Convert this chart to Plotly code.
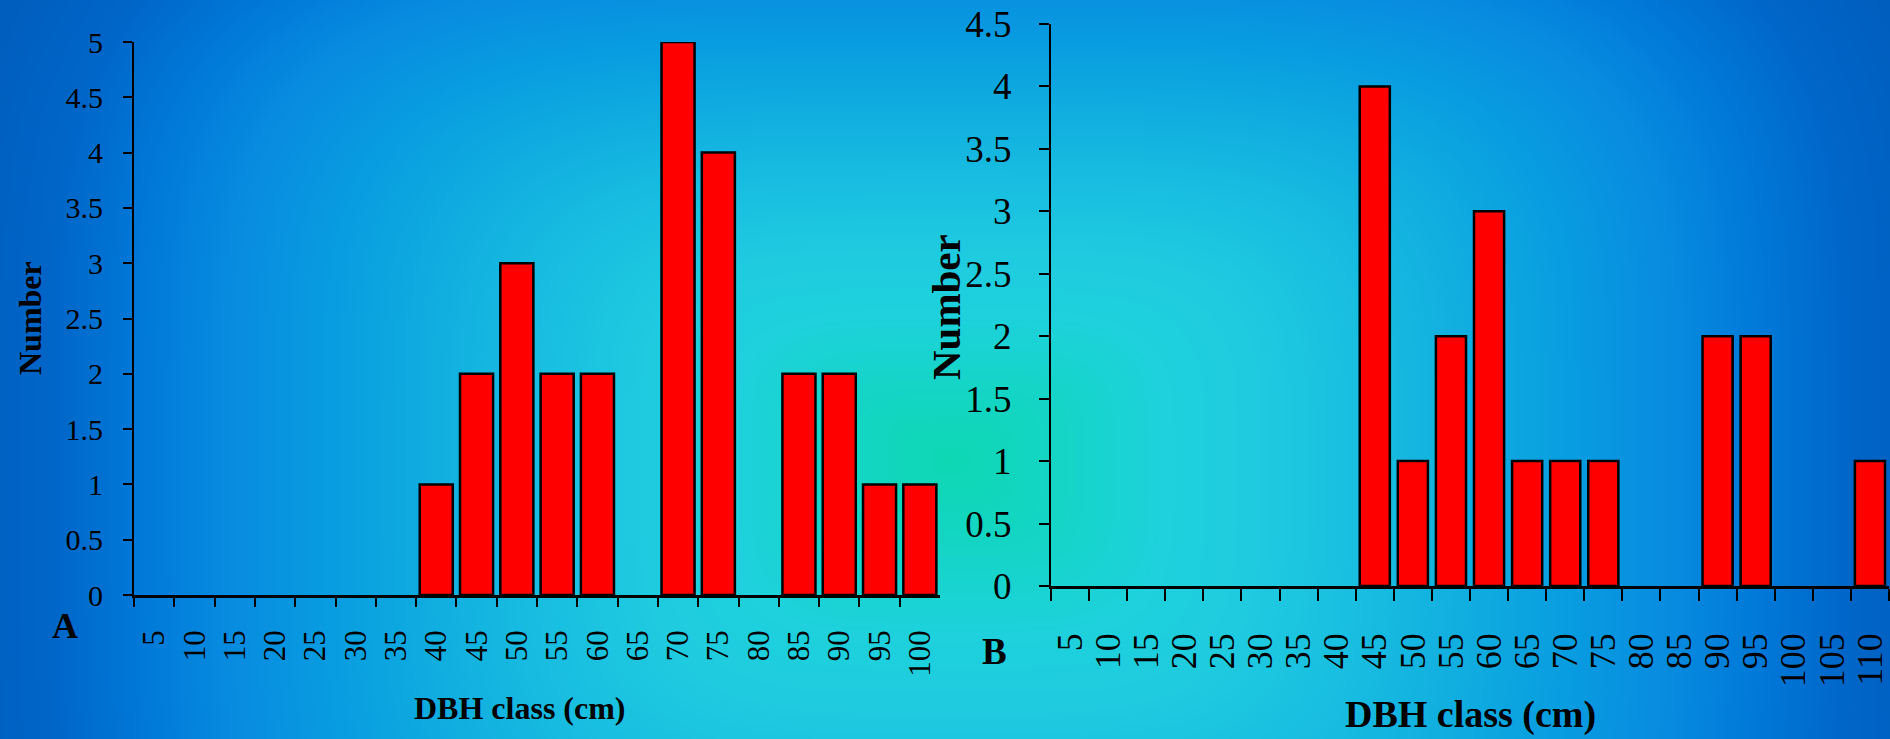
import base64
import struct
import zlib

import numpy as np
import plotly.graph_objects as go

# ---- data -----------------------------------------------------------------
classes_a = ["5", "10", "15", "20", "25", "30", "35", "40", "45", "50",
             "55", "60", "65", "70", "75", "80", "85", "90", "95", "100"]
counts_a = [0, 0, 0, 0, 0, 0, 0, 1, 2, 3, 2, 2, 0, 5, 4, 0, 2, 2, 1, 1]

classes_b = ["5", "10", "15", "20", "25", "30", "35", "40", "45", "50", "55",
             "60", "65", "70", "75", "80", "85", "90", "95", "100", "105", "110"]
counts_b = [0, 0, 0, 0, 0, 0, 0, 0, 4, 1, 2, 3, 1, 1, 1, 0, 0, 2, 2, 0, 0, 1]

x_title = "DBH class (cm)"
y_title = "Number"

# ---- page geometry ----------------------------------------------------------
W, H = 1890, 739
SERIF = "Liberation Serif, Times New Roman, serif"


def px_x(v):
    return v / W


def px_y(v):
    return 1 - v / H


# ---- gradient backdrop (teal glow fading to deep blue at the edges) --------
def backdrop_png(w=630, h=247):
    xs = (np.arange(w) + 0.5) * W / w
    ys = (np.arange(h) + 0.5) * H / h
    X, Y = np.meshgrid(xs, ys)
    cx, cy = 950.0, 460.0
    dx = np.abs(X - cx) / 950.0
    dy = np.where(Y < cy, (cy - Y) / 640.0, (Y - cy) / 775.0)
    t = (dx ** 4 + dy ** 4) ** 0.25
    stops = [
        (0.00, "#0ED8B4"), (0.10, "#14D6C4"), (0.22, "#1ED2DC"),
        (0.32, "#20CCE0"), (0.45, "#18BCE0"), (0.56, "#10ACE0"),
        (0.66, "#089CE0"), (0.76, "#088CE0"), (0.86, "#0078D8"),
        (0.95, "#0066C8"), (1.05, "#005EBE"),
    ]
    st = [s[0] for s in stops]
    chans = []
    for k in range(3):
        vals = [int(s[1][1 + 2 * k:3 + 2 * k], 16) for s in stops]
        chans.append(np.interp(t, st, vals))
    img = np.clip(np.stack(chans, axis=-1), 0, 255).astype(np.uint8)
    raw = b"".join(b"\x00" + row.tobytes() for row in img)

    def chunk(tag, data):
        return (struct.pack(">I", len(data)) + tag + data
                + struct.pack(">I", zlib.crc32(tag + data) & 0xFFFFFFFF))

    png = (b"\x89PNG\r\n\x1a\n"
           + chunk(b"IHDR", struct.pack(">IIBBBBB", w, h, 8, 2, 0, 0, 0))
           + chunk(b"IDAT", zlib.compress(raw, 9))
           + chunk(b"IEND", b""))
    return "data:image/png;base64," + base64.b64encode(png).decode()


# ---- figure -----------------------------------------------------------------
def bar_marker(values):
    # empty classes get no outline so the baseline stays a single clean line
    return dict(color="#FF0000",
                line=dict(color="black",
                          width=[2.5 if v > 0 else 0 for v in values]))


fig = go.Figure()
fig.add_trace(go.Bar(x=classes_a, y=counts_a, marker=bar_marker(counts_a),
                     width=0.82, xaxis="x", yaxis="y", showlegend=False))
fig.add_trace(go.Bar(x=classes_b, y=counts_b, marker=bar_marker(counts_b),
                     width=0.79, xaxis="x2", yaxis="y2", showlegend=False))

common_x = dict(type="category", tickson="boundaries", ticks="outside",
                tickwidth=2, tickcolor="black", showline=True, linecolor="black",
                linewidth=2.5, tickangle=-90, showgrid=False, zeroline=False,
                automargin=False, tickmode="array")
common_y = dict(ticks="outside", tickwidth=2, tickcolor="black", showline=True,
                linecolor="black", linewidth=2, tick0=0, dtick=0.5,
                tickmode="linear", showgrid=False, zeroline=False,
                automargin=False)

fig.update_layout(
    width=W, height=H,
    margin=dict(l=0, r=0, t=0, b=0, pad=0, autoexpand=False),
    paper_bgcolor="#0080E0",
    plot_bgcolor="rgba(0,0,0,0)",
    font=dict(family=SERIF, color="black"),
    xaxis=dict(common_x, domain=[px_x(134), px_x(940)], anchor="y",
               range=[-0.5, len(classes_a) - 0.5], ticklen=9,
               tickvals=classes_a, ticktext=classes_a,
               tickfont=dict(family=SERIF, size=31, color="black"),
               ticklabelstandoff=20),
    yaxis=dict(common_y, domain=[px_y(595), px_y(42)], anchor="x",
               range=[0, 5], ticklen=9,
               tickfont=dict(family=SERIF, size=30, color="black"),
               ticklabelstandoff=14),
    xaxis2=dict(common_x, domain=[px_x(1051), px_x(1889)], anchor="y2",
                range=[-0.5, len(classes_b) - 0.5], ticklen=12,
                tickvals=classes_b, ticktext=classes_b,
                tickfont=dict(family=SERIF, size=36, color="black"),
                ticklabelstandoff=30),
    yaxis2=dict(common_y, domain=[px_y(586), px_y(24)], anchor="x2",
                range=[0, 4.5], ticklen=10,
                tickfont=dict(family=SERIF, size=37, color="black"),
                ticklabelstandoff=20),
    images=[dict(source=backdrop_png(), xref="paper", yref="paper",
                 x=0, y=1, sizex=1, sizey=1, sizing="stretch",
                 xanchor="left", yanchor="top", layer="below")],
)


def label(text, x, y, size, angle=0):
    fig.add_annotation(text="<b>%s</b>" % text, x=px_x(x), y=px_y(y),
                       xref="paper", yref="paper", showarrow=False,
                       xanchor="center", yanchor="middle", textangle=angle,
                       font=dict(family=SERIF, size=size, color="black"))


# panel A labels
label(y_title, 30, 318, 32, -90)
label(x_title, 520, 708, 32)
label("A", 65, 626, 36)
# panel B labels
label(y_title, 946, 307, 41, -90)
label(x_title, 1470, 714, 38)
label("B", 994, 651, 37)

fig.write_html("out.html")
